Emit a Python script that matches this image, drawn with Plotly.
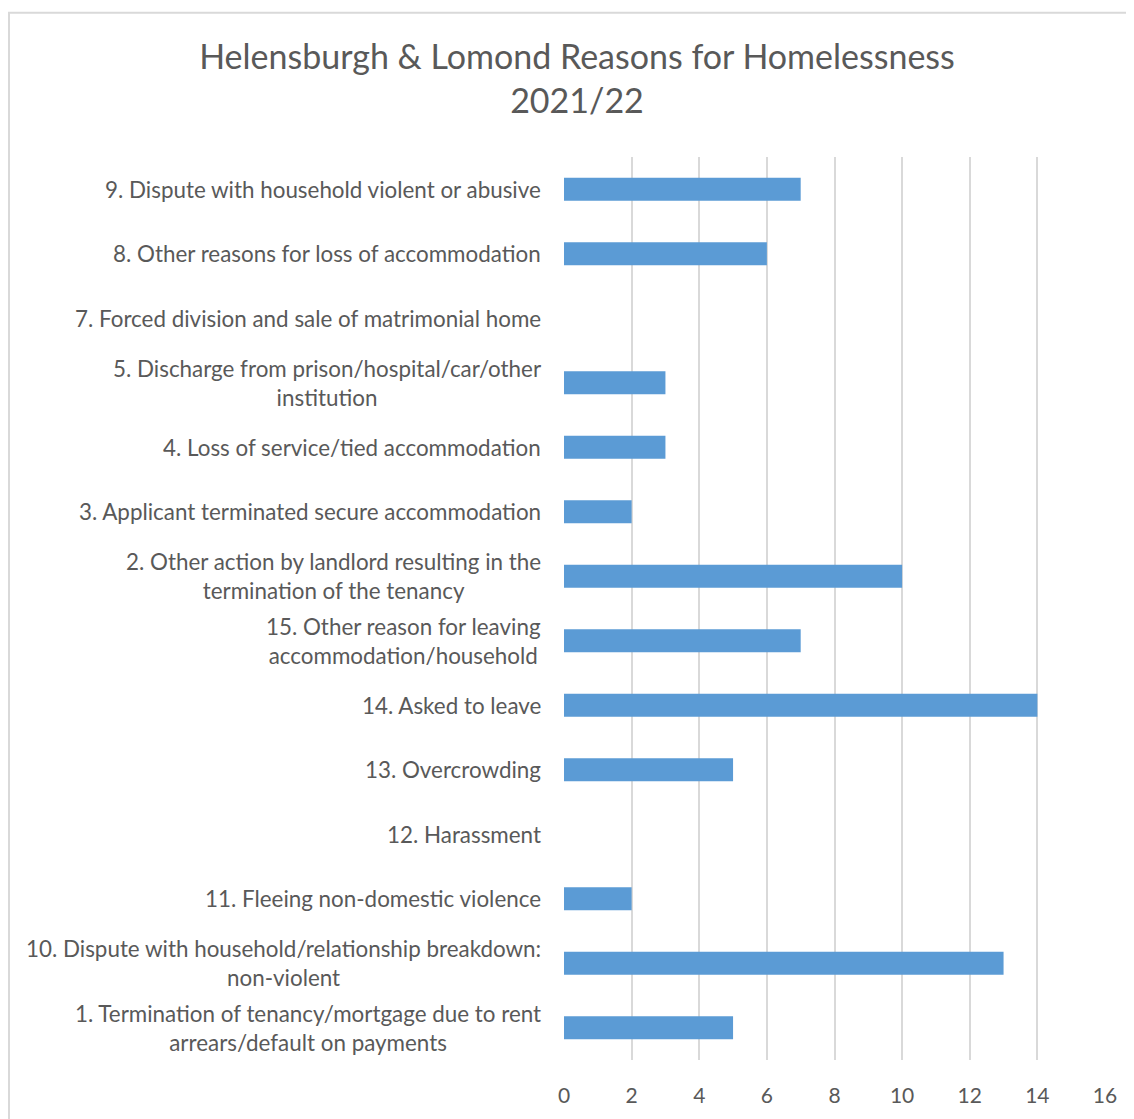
import plotly.graph_objects as go

categories = [
    "1. Termination of tenancy/mortgage due to rent<br>arrears/default on payments",
    "10. Dispute with household/relationship breakdown:<br>non-violent",
    "11. Fleeing non-domestic violence",
    "12. Harassment",
    "13. Overcrowding",
    "14. Asked to leave",
    "15. Other reason for leaving<br>accommodation/household",
    "2. Other action by landlord resulting in the<br>termination of the tenancy",
    "3. Applicant terminated secure accommodation",
    "4. Loss of service/tied accommodation",
    "5. Discharge from prison/hospital/car/other<br>institution",
    "7. Forced division and sale of matrimonial home",
    "8. Other reasons for loss of accommodation",
    "9. Dispute with household violent or abusive",
]
values = [5, 13, 2, 0, 5, 14, 7, 10, 2, 3, 3, 0, 6, 7]
x_ticks = [0, 2, 4, 6, 8, 10, 12, 14, 16]

OFF = 8  # page body margin
W, H = 1134 - OFF, 1119 - OFF
L, R, T, B = 564 - OFF, 29, 157 - OFF, 54
FONT = "Lato"
GREY = "#595959"

fig = go.Figure(go.Bar(
    x=values, y=list(range(len(categories))), orientation="h",
    marker=dict(color="#5B9BD5", line=dict(width=0)),
    width=0.36,
))

annotations = []
for i, c in enumerate(categories):
    annotations.append(dict(
        x=0, xref="paper", y=i, yref="y", text=c, showarrow=False,
        xanchor="right", yanchor="middle", align="center", xshift=-21,
        font=dict(family=FONT, size=22.4, color=GREY),
    ))

pw = W - L - R
ph = H - T - B
def px_to_paper_x(px):
    return (px - OFF - L) / pw
def px_to_paper_y(py):
    return (H - B - (py - OFF)) / ph

fig.update_layout(
    width=W, height=H,
    margin=dict(l=L, r=R, t=T, b=B),
    paper_bgcolor="white", plot_bgcolor="white",
    showlegend=False,
    title=dict(
        text="Helensburgh & Lomond Reasons for Homelessness<br>2021/22",
        x=(577 - OFF) / W, xanchor="center", y=1 - (69 - OFF) / H, yanchor="middle",
        xref="container", yref="container",
        font=dict(family=FONT, size=34, color=GREY),
    ),
    xaxis=dict(
        range=[0, 16], tickvals=x_ticks, showgrid=True,
        gridcolor="#D9D9D9", gridwidth=1.5, zeroline=False,
        showline=False, ticks="", ticklabelstandoff=21,
        tickfont=dict(family=FONT, size=21, color=GREY),
        fixedrange=True,
    ),
    yaxis=dict(
        range=[-0.5, len(categories) - 0.5], showticklabels=False,
        showgrid=False, zeroline=False, showline=False, ticks="",
        fixedrange=True,
    ),
    annotations=annotations,
    shapes=[dict(
        type="rect", xref="paper", yref="paper",
        x0=px_to_paper_x(9), x1=px_to_paper_x(1145),
        y0=px_to_paper_y(1135), y1=px_to_paper_y(12),
        line=dict(color="#D9D9D9", width=2), fillcolor="rgba(0,0,0,0)",
        layer="below",
    )],
)

fig.write_html("out.html")
